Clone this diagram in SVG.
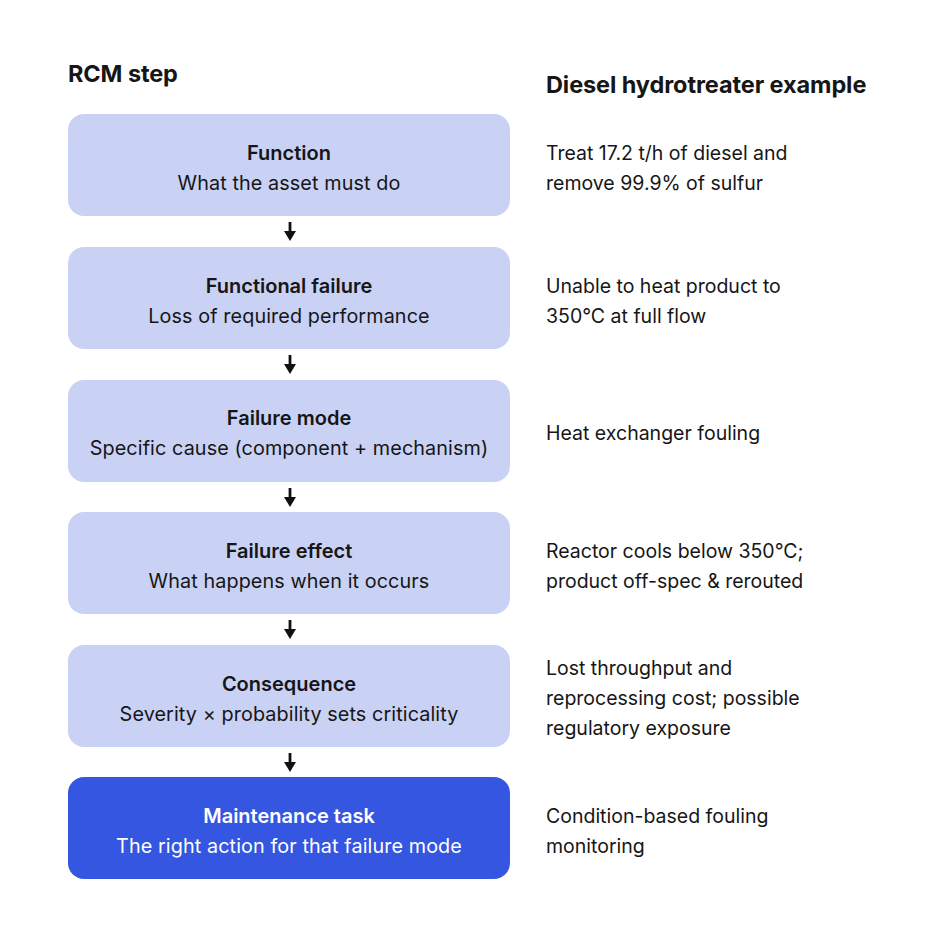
<svg xmlns="http://www.w3.org/2000/svg" width="936" height="936" viewBox="0 0 936 936">
<defs>
<style>
text{font-family:Inter,"Noto Sans","Liberation Sans",sans-serif;fill:#161616}
.h{font-size:23.5px;font-weight:700;letter-spacing:-0.1px}
.t{font-size:20px;font-weight:600;text-anchor:middle}
.s{font-size:19.8px;font-weight:400;text-anchor:middle;letter-spacing:0.1px}
.r{font-size:19.5px;font-weight:400;letter-spacing:0px}
.box{fill:#C9D1F5}
.dark{fill:#3556E0}
.w{fill:#ffffff}
.ln{stroke:#111;stroke-width:2.8}
.ah{fill:#111}
</style>
</defs>
<rect width="936" height="936" fill="#ffffff"/>
<text class="h" x="68" y="82">RCM step</text>
<text class="h" x="546" y="93">Diesel hydrotreater example</text>
<g id="n1"><rect class="box" x="68" y="114" width="442" height="102" rx="16"/>
<text class="t" x="289" y="160">Function</text><text class="s" x="289" y="190">What the asset must do</text></g>
<g id="n2"><rect class="box" x="68" y="247" width="442" height="102" rx="16"/>
<text class="t" x="289" y="293">Functional failure</text><text class="s" x="289" y="323">Loss of required performance</text></g>
<g id="n3"><rect class="box" x="68" y="380" width="442" height="102" rx="16"/>
<text class="t" x="289" y="425">Failure mode</text><text class="s" x="289" y="455">Specific cause (component + mechanism)</text></g>
<g id="n4"><rect class="box" x="68" y="512" width="442" height="102" rx="16"/>
<text class="t" x="289" y="558">Failure effect</text><text class="s" x="289" y="588">What happens when it occurs</text></g>
<g id="n5"><rect class="box" x="68" y="645" width="442" height="102" rx="16"/>
<text class="t" x="289" y="691">Consequence</text><text class="s" x="289" y="721">Severity × probability sets criticality</text></g>
<g id="n6"><rect class="dark" x="68" y="777" width="442" height="102" rx="16"/>
<text class="t w" x="289" y="823">Maintenance task</text><text class="s w" x="289" y="853">The right action for that failure mode</text></g>
<g id="examples">
<text class="r" x="546" y="160">Treat 17.2 t/h of diesel and</text><text class="r" x="546" y="190">remove 99.9% of sulfur</text>
<text class="r" x="546" y="293">Unable to heat product to</text><text class="r" x="546" y="323">350°C at full flow</text>
<text class="r" x="546" y="440">Heat exchanger fouling</text>
<text class="r" x="546" y="558">Reactor cools below 350°C;</text><text class="r" x="546" y="588">product off-spec &amp; rerouted</text>
<text class="r" x="546" y="675">Lost throughput and</text><text class="r" x="546" y="705">reprocessing cost; possible</text><text class="r" x="546" y="735">regulatory exposure</text>
<text class="r" x="546" y="823">Condition-based fouling</text><text class="r" x="546" y="853">monitoring</text>
</g>
<g id="connectors">
<line class="ln" x1="290" y1="222" x2="290" y2="234"/><polygon class="ah" points="284,231 296,231 290,241"/>
<line class="ln" x1="290" y1="355" x2="290" y2="367"/><polygon class="ah" points="284,364 296,364 290,374"/>
<line class="ln" x1="290" y1="488" x2="290" y2="500"/><polygon class="ah" points="284,497 296,497 290,507"/>
<line class="ln" x1="290" y1="620" x2="290" y2="632"/><polygon class="ah" points="284,629 296,629 290,639"/>
<line class="ln" x1="290" y1="753" x2="290" y2="765"/><polygon class="ah" points="284,762 296,762 290,772"/>
</g>
</svg>
